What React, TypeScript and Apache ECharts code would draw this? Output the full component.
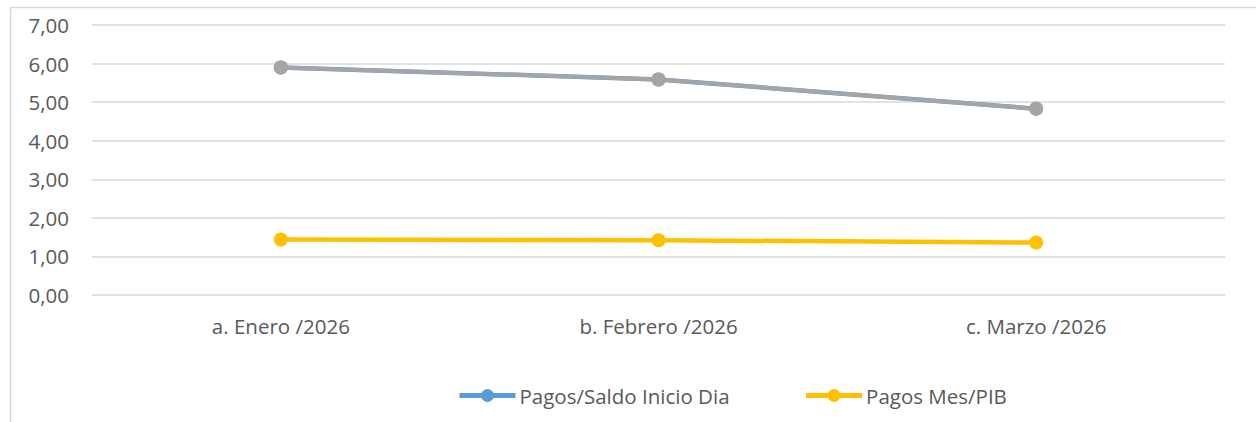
import React, { useEffect, useRef } from "react";
import * as echarts from "echarts";

const categories = ["a. Enero /2026", "b. Febrero /2026", "c. Marzo /2026"];
const pagosSaldo = [5.9, 5.59, 4.83];
const pagosSaldoOverlay = [5.9, 5.59, 4.83];
const pagosMesPib = [1.44, 1.42, 1.36];
const legendNames = ["Pagos/Saldo Inicio Dia", "Pagos Mes/PIB"];

const FONT = "Open Sans";
const TXT = "#595959";
const FS = 20.5;

export default function App() {
  const ref = useRef<HTMLDivElement>(null);
  useEffect(() => {
    document.body.style.margin = "0";
    const chart = echarts.init(ref.current!, null, { renderer: "svg" });
    chart.setOption({
      animation: false,
      backgroundColor: "#ffffff",
      textStyle: { fontFamily: FONT },
      graphic: [
        {
          type: "rect",
          shape: { x: 10.5, y: 7.5, width: 1400, height: 600 },
          style: { fill: "none", stroke: "#d9d9d9", lineWidth: 1.5 },
          silent: true,
        },
      ],
      grid: { left: 92, right: 31, top: 25, bottom: 127, containLabel: false },
      legend: {
        data: legendNames,
        top: 380,
        left: 452,
        itemWidth: 56,
        itemHeight: 16,
        itemGap: 74,
        lineStyle: { width: 5 },
        textStyle: { color: TXT, fontSize: FS, fontFamily: FONT, padding: [0, 0, 0, -1] },
      },
      xAxis: {
        type: "category",
        data: categories,
        boundaryGap: true,
        axisLine: { show: false },
        axisTick: { show: false },
        axisLabel: { color: TXT, fontSize: FS, fontFamily: FONT, margin: 20 },
      },
      yAxis: {
        type: "value",
        min: 0,
        max: 7,
        interval: 1,
        axisLine: { show: false },
        axisTick: { show: false },
        splitLine: { lineStyle: { color: "#d9d9d9", width: 1.5 } },
        axisLabel: {
          color: TXT,
          fontSize: FS,
          fontFamily: FONT,
          margin: 23,
          formatter: (v: number) => v.toFixed(2).replace(".", ","),
        },
      },
      series: [
        {
          name: "Pagos/Saldo Inicio Dia",
          type: "line",
          data: pagosSaldo,
          symbol: "circle",
          symbolSize: 14,
          itemStyle: { color: "#5B9BD5" },
          lineStyle: { color: "#5B9BD5", width: 4.5 },
        },
        {
          name: "Pagos Mes/PIB",
          type: "line",
          data: pagosMesPib,
          symbol: "circle",
          symbolSize: 14,
          itemStyle: { color: "#FFC000" },
          lineStyle: { color: "#FFC000", width: 4.5 },
        },
        {
          name: "overlay",
          type: "line",
          data: pagosSaldoOverlay,
          symbol: "circle",
          symbolSize: 14,
          itemStyle: { color: "#A5A5A5" },
          lineStyle: { color: "#A5A5A5", width: 4 },
        },
      ],
    });
    return () => chart.dispose();
  }, []);
  return (
    <div
      ref={ref}
      style={{ position: "absolute", left: 0, top: 0, width: 1256, height: 422 }}
    />
  );
}
